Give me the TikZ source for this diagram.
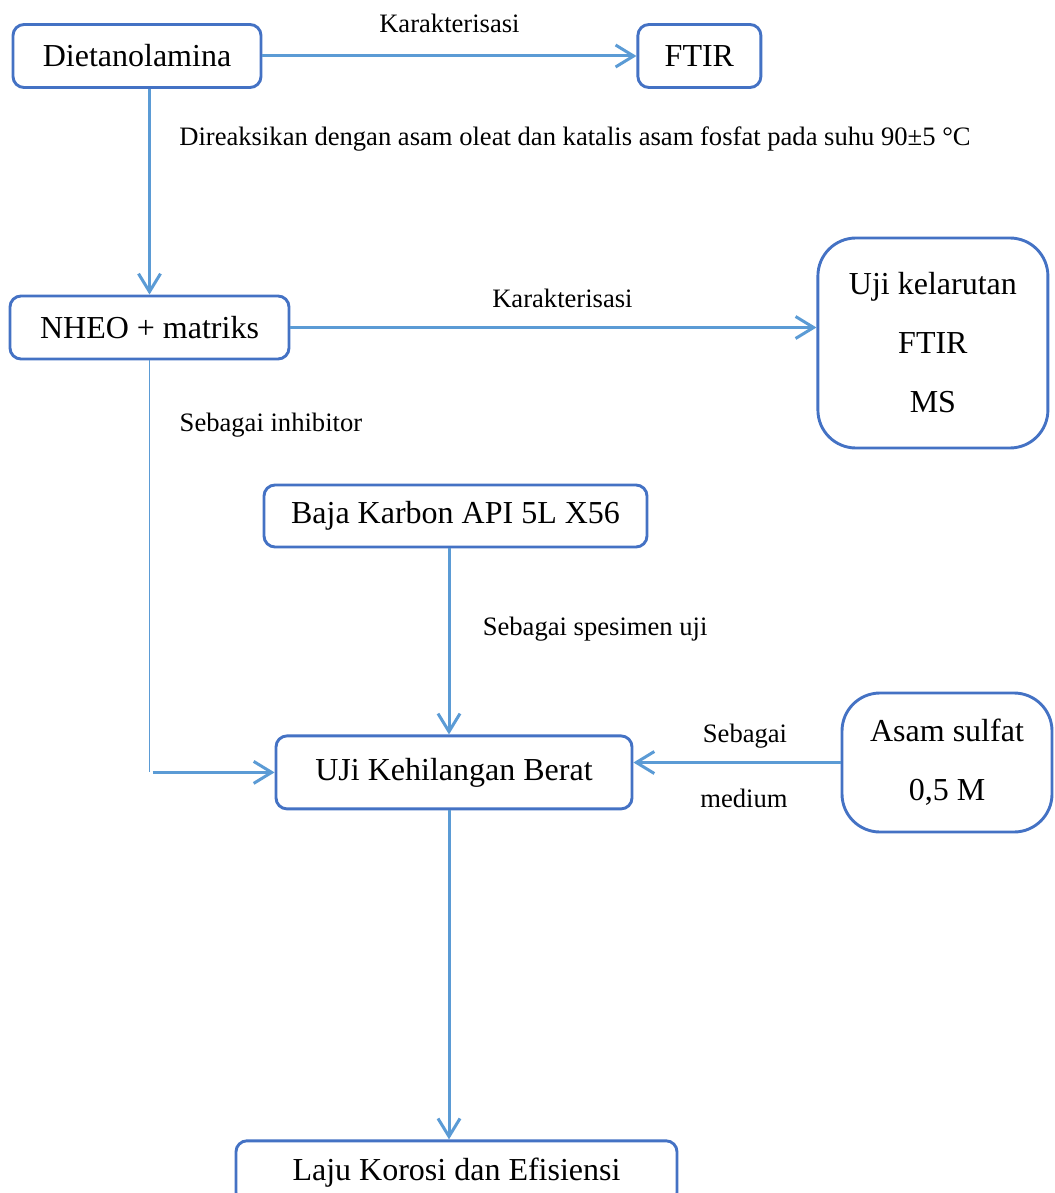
\documentclass[tikz,border=0pt]{standalone}
\usepackage{fontspec}
\setmainfont{Liberation Serif}
\usetikzlibrary{arrows.meta,positioning}
\definecolor{boxblue}{RGB}{68,114,196}
\definecolor{lineblue}{RGB}{91,155,213}

\begin{document}
\begin{tikzpicture}[
            x=1pt, y=1pt,
            font=\fontsize{26.6}{31}\selectfont,
            box/.style={draw=boxblue, line width=2.9pt, rounded corners=11pt, align=center, inner sep=0pt, minimum height=63pt, font=\fontsize{32}{38}\selectfont},
            bigbox/.style={box, rounded corners=38pt, font=\fontsize{32}{59}\selectfont},
            arrow/.style={-{Straight Barb[length=18pt, width=22pt]}, draw=lineblue, line width=3pt},
            thinline/.style={draw=lineblue, line width=1.8pt}
        ]
            \useasboundingbox (0,0) rectangle (1054,-1193);

            \node[box, minimum width=248pt] (dea) at (137,-56) {Dietanolamina};
            \node[box, right=374pt of dea, minimum width=123pt] (ftir) {FTIR};
            \node[box, minimum width=279pt] (nheo) at (149.5,-327.5) {NHEO + matriks};
            \node[bigbox, right=526pt of nheo, yshift=-15.5pt, minimum width=230pt, minimum height=210pt] (karak) {Uji kelarutan\\FTIR\\MS};
            \node[box, minimum width=383pt, minimum height=62pt] (baja) at (455.5,-516) {Baja Karbon API 5L X56};
            \node[box, below=186pt of baja, xshift=-1.5pt, minimum width=356pt, minimum height=73pt] (uji) {UJi Kehilangan Berat};
            \node[bigbox, minimum width=210pt, minimum height=139pt] (asam) at (947,-762.5) {Asam sulfat\\0,5 M};
            \node[box, below=329pt of uji, xshift=2.5pt, minimum width=441pt] (laju) {Laju Korosi dan Efisiensi};

            \draw[arrow] (dea) -- node[midway, yshift=33pt] {Karakterisasi} (ftir);
            \draw[arrow] (dea.south -| nheo.north) -- node[pos=0.244, anchor=west, xshift=25pt] {Direaksikan dengan asam oleat dan katalis asam fosfat pada suhu 90±5 °C} (nheo.north);
            \draw[arrow] (nheo.east) -- node[midway, yshift=29pt, xshift=9pt] {Karakterisasi} (nheo.east -| karak.west);

            \coordinate (bend) at (nheo.south |- uji.west);
            \draw[thinline] (nheo.south) -- node[pos=0.156, anchor=west, xshift=26pt] {Sebagai inhibitor} (bend);
            \draw[arrow] ([xshift=3pt]bend) -- (uji.west);

            \draw[arrow] ([xshift=-6.5pt]baja.south) -- node[pos=0.435, anchor=west, xshift=29pt] {Sebagai spesimen uji} ([xshift=-6.5pt]baja.south |- uji.north);
            \draw[arrow] (asam.west) -- node[midway, yshift=26pt, xshift=8pt] {Sebagai} node[midway, yshift=-36pt, xshift=7pt] {medium} (asam.west -| uji.east);
            \draw[arrow] ([xshift=-5pt]uji.south) -- ([xshift=-5pt]uji.south |- laju.north);
        \end{tikzpicture}
\end{document}
